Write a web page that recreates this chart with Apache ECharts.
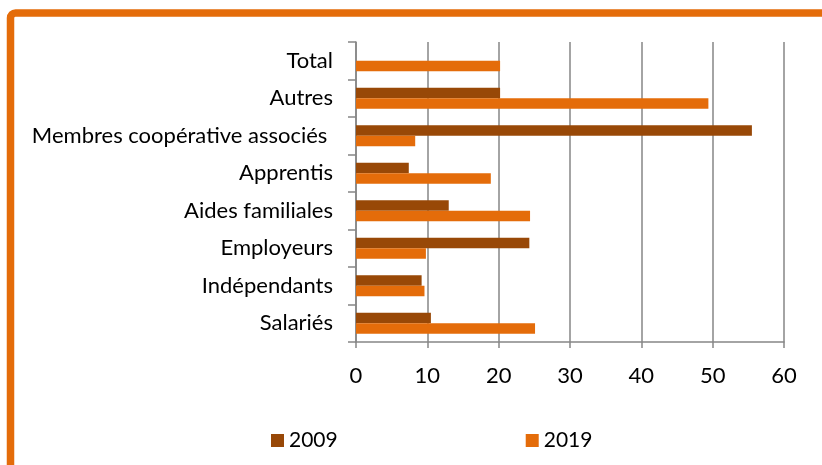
<!DOCTYPE html>
<html>
<head>
<meta charset="utf-8">
<script src="https://cdn.jsdelivr.net/npm/echarts@6/dist/echarts.min.js"></script>
<style>html,body{margin:0;padding:0;background:#fff;}#c{width:822px;height:465px;}</style>
</head>
<body>
<div id="c"></div>
<script>
var categories = ['Salariés', 'Indépendants', 'Employeurs', 'Aides familiales', 'Apprentis', 'Membres coopérative associés ', 'Autres', 'Total'];
var values2009 = [10.5, 9.2, 24.3, 13.0, 7.4, 55.5, 20.2, null];
var values2019 = [25.1, 9.6, 9.8, 24.4, 18.9, 8.3, 49.4, 20.2];
var seriesNames = ['2009', '2019'];
var xTicks = [0, 10, 20, 30, 40, 50, 60];

var chart = echarts.init(document.getElementById('c'), null, {renderer: 'canvas'});
var font = 'Lato';
chart.setOption({
  animation: false,
  textStyle: {fontFamily: font},
  graphic: [{
    type: 'rect',
    shape: {x: 10.5, y: 13, width: 900, height: 600, r: 5},
    style: {fill: 'none', stroke: '#E46C0A', lineWidth: 7.5},
    silent: true
  }],
  grid: {left: 356, right: 38, top: 42, bottom: 123, containLabel: false},
  legend: {
    data: seriesNames,
    left: 266, top: 425,
    itemWidth: 13, itemHeight: 13, itemGap: 188,
    icon: 'rect',
    textStyle: {fontFamily: font, fontSize: 21, color: '#000'}
  },
  xAxis: {
    type: 'value', min: xTicks[0], max: xTicks[xTicks.length - 1], interval: 10,
    axisLine: {show: true, lineStyle: {color: '#868686', width: 1.5}},
    axisTick: {show: true, length: 6, lineStyle: {color: '#868686', width: 1.5}},
    splitLine: {show: true, lineStyle: {color: '#868686', width: 1.5}},
    axisLabel: {fontFamily: font, fontSize: 22, color: '#000', margin: 23}
  },
  yAxis: {
    type: 'category', data: categories,
    axisLine: {show: true, lineStyle: {color: '#868686', width: 1.5}},
    axisTick: {show: true, length: 8, lineStyle: {color: '#868686', width: 1.5}},
    axisLabel: {fontFamily: font, fontSize: 22, color: '#000', margin: 23}
  },
  series: [
    {name: seriesNames[0], type: 'bar', data: values2009, barWidth: 10.5, barGap: '0%', itemStyle: {color: '#984807'}},
    {name: seriesNames[1], type: 'bar', data: values2019, barWidth: 10.5, barGap: '0%', itemStyle: {color: '#E46C0A'}}
  ]
});
</script>
</body>
</html>
